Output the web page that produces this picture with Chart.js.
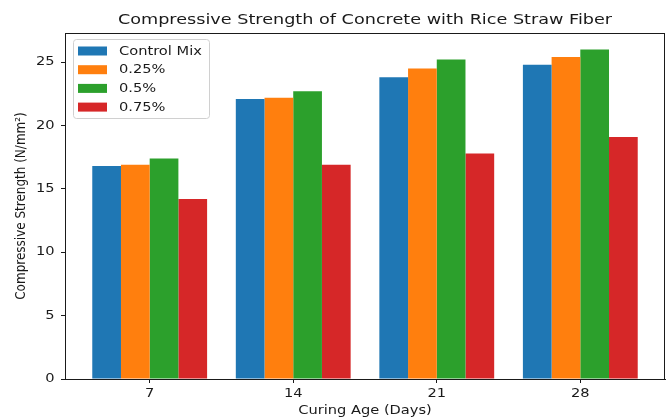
<!DOCTYPE html>
<html>
<head>
<meta charset="utf-8">
<script src="https://cdn.jsdelivr.net/npm/chart.js@4/dist/chart.umd.min.js"></script>
<style>
  html, body { margin: 0; padding: 0; background: #fff; }
  #wrap { width: 670px; height: 419px; }
</style>
</head>
<body>
<div id="wrap"><canvas id="c" width="670" height="419"></canvas></div>
<script>
// Curing ages (days) shown on the x axis
const curingDays = ['7', '14', '21', '28'];

// Compressive strength (N/mm²) for each fiber content
const controlMix = [16.8, 22.1, 23.8, 24.8];
const fiber025 = [16.9, 22.2, 24.5, 25.4];
const fiber05 = [17.4, 22.7, 25.2, 26.0];
const fiber075 = [14.2, 16.9, 17.8, 19.1];

const seriesLabels = ['Control Mix', '0.25%', '0.5%', '0.75%'];
const seriesColors = ['#1f77b4', '#ff7f0e', '#2ca02c', '#d62728'];
const yTicks = [0, 5, 10, 15, 20, 25];

const allSeries = [controlMix, fiber025, fiber05, fiber075];
const yMax = Math.max(...allSeries.flat()) * 1.05;

const FONT = 'DejaVu Sans, Verdana, sans-serif';
const INK = '#1a1a1a';
const WIDEN = 1.2; // text is drawn slightly widened horizontally

const datasets = allSeries.map((vals, s) => ({
  label: seriesLabels[s],
  data: vals.map((v, i) => ({ x: i, y: v })),
  backgroundColor: seriesColors[s],
  borderWidth: 0,
  categoryPercentage: 0.8,
  barPercentage: 1.0
}));

function wideText(ctx, text, x, y, size, align, rotate) {
  ctx.save();
  ctx.translate(x, y);
  ctx.scale(WIDEN, 1);
  if (rotate) ctx.rotate(-Math.PI / 2);
  ctx.font = size + 'px ' + FONT;
  ctx.textAlign = align;
  ctx.textBaseline = 'middle';
  ctx.fillStyle = INK;
  ctx.fillText(text, 0, 0);
  ctx.restore();
}

// Title, tick labels, axis titles, closed frame and an in-plot legend box
const decor = {
  id: 'decor',
  afterDraw(chart) {
    const ctx = chart.ctx;
    const a = chart.chartArea;
    const xs = chart.scales.x, ys = chart.scales.y;
    ctx.save();
    // frame
    ctx.strokeStyle = INK;
    ctx.lineWidth = 1;
    ctx.strokeRect(Math.round(a.left) + 0.5, Math.round(a.top) + 0.5,
                   Math.round(a.right - a.left) - 1, Math.round(a.bottom - a.top));
    ctx.restore();

    // title
    wideText(ctx, 'Compressive Strength of Concrete with Rice Straw Fiber', (a.left + a.right) / 2, 20.5, 14.7, 'center');

    // tick labels
    xs.ticks.forEach(t => {
      wideText(ctx, curingDays[t.value], xs.getPixelForValue(t.value), a.bottom + 15, 12.2, 'center');
    });
    ys.ticks.forEach(t => {
      wideText(ctx, String(t.value), a.left - 10.5, ys.getPixelForValue(t.value), 12.2, 'right');
    });

    // axis titles
    wideText(ctx, 'Curing Age (Days)', (a.left + a.right) / 2, 411, 12.2, 'center');
    wideText(ctx, 'Compressive Strength (N/mm²)', 21, (a.top + a.bottom) / 2, 12, 'center', true);

    // legend
    ctx.save();
    const lx = a.left + 8, ly = a.top + 6, lw = 136, lh = 79;
    ctx.beginPath();
    ctx.roundRect(lx + 0.5, ly + 0.5, lw, lh, 3);
    ctx.fillStyle = 'rgba(255,255,255,0.8)';
    ctx.fill();
    ctx.strokeStyle = '#d0d0d0';
    ctx.lineWidth = 1;
    ctx.stroke();
    ctx.restore();
    chart.data.datasets.forEach((ds, i) => {
      const cy = ly + 12 + i * 18.7;
      ctx.fillStyle = ds.backgroundColor;
      ctx.fillRect(lx + 5, cy - 4.5, 29, 9);
      wideText(ctx, ds.label, lx + 46, cy + 0.5, 12.2, 'left');
    });
  }
};

new Chart(document.getElementById('c'), {
  type: 'bar',
  data: { datasets },
  plugins: [decor],
  options: {
    responsive: false,
    animation: false,
    layout: { padding: { top: 33, right: 5, left: 0, bottom: 0 } },
    plugins: { legend: { display: false }, title: { display: false }, tooltip: { enabled: false } },
    scales: {
      x: {
        type: 'linear',
        offset: false,
        min: -0.59,
        max: 3.59,
        afterBuildTicks(scale) { scale.ticks = curingDays.map((_, i) => ({ value: i })); },
        afterFit(scale) { scale.height = 40; },
        grid: { display: true, drawOnChartArea: false, drawTicks: true, tickLength: 4, color: INK, offset: false },
        border: { display: true, color: INK, width: 1 },
        ticks: { display: false },
        title: { display: false }
      },
      y: {
        min: 0,
        max: yMax,
        afterBuildTicks(scale) { scale.ticks = yTicks.map(v => ({ value: v })); },
        afterFit(scale) { scale.width = 65; },
        grid: { display: true, drawOnChartArea: false, drawTicks: true, tickLength: 4, color: INK },
        border: { display: true, color: INK, width: 1 },
        ticks: { display: false },
        title: { display: false }
      }
    }
  }
});
</script>
</body>
</html>
